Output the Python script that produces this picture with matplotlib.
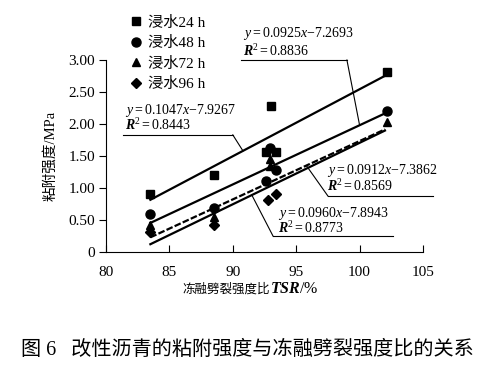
import matplotlib
matplotlib.use("Agg")
import matplotlib.pyplot as plt
import numpy as np

plt.rcParams['font.family'] = ['Liberation Serif', 'Noto Sans CJK SC']
plt.rcParams['mathtext.fontset'] = 'custom'
plt.rcParams['mathtext.rm'] = 'Liberation Serif'
plt.rcParams['mathtext.it'] = 'Liberation Serif:italic'
plt.rcParams['mathtext.bf'] = 'Liberation Serif:bold'
try:
    plt.rcParams['mathtext.bfit'] = 'Liberation Serif:italic:bold'
except KeyError:
    pass

# Data
series_names = ["浸水24 h", "浸水48 h", "浸水72 h", "浸水96 h"]
tsr_24 = [83.5, 88.5, 93.0, 92.6, 93.4, 102.2]
adh_24 = [0.91, 1.21, 2.28, 1.56, 1.57, 2.81]
tsr_48 = [83.5, 88.5, 92.65, 92.9, 93.4, 102.2]
adh_48 = [0.59, 0.68, 1.11, 1.62, 1.28, 2.21]
tsr_72 = [83.5, 88.5, 92.9, 92.9, 102.2]
adh_72 = [0.42, 0.55, 1.46, 1.35, 2.03]
tsr_96 = [83.5, 88.5, 92.8, 93.4]
adh_96 = [0.32, 0.42, 0.82, 0.91]

# Fit equations (slope, intercept, R2)
fit_24 = (0.1047, -7.9267, 0.8443)
fit_48 = (0.0925, -7.2693, 0.8836)
fit_72 = (0.0912, -7.3862, 0.8569)
fit_96 = (0.0960, -7.8943, 0.8773)
fit_range = [83.5, 102.0]

x_ticks = [80, 85, 90, 95, 100, 105]
y_ticks = [0, 0.5, 1.0, 1.5, 2.0, 2.5, 3.0]
y_ticklabels = ["0", "0.50", "1.00", "1.50", "2.00", "2.50", "3.00"]

W, H = 494, 371
fig = plt.figure(figsize=(W/100, H/100), dpi=100)
ax = fig.add_axes([106/W, 1-252/H, (423-106)/W, (252-60)/H])
ax.set_xlim(80, 105)
ax.set_ylim(0, 3.0)

ms = 6
ax.plot(tsr_24, adh_24, 's', color='black', ms=ms, ls='none', label=series_names[0], clip_on=False)
ax.plot(tsr_48, adh_48, 'o', color='black', ms=ms+0.5, ls='none', label=series_names[1], clip_on=False)
ax.plot(tsr_72, adh_72, '^', color='black', ms=ms, ls='none', label=series_names[2], clip_on=False)
ax.plot(tsr_96, adh_96, 'D', color='black', ms=ms-1, ls='none', label=series_names[3], clip_on=False)

xs = np.array(fit_range)
for (k, b, r2), ls in [(fit_24, '-'), (fit_48, '-'), (fit_72, '--'), (fit_96, '-')]:
    if ls == '--':
        ax.plot(xs, k*xs + b, color='black', lw=1.6, ls='--', dashes=(3, 1))
    else:
        ax.plot(xs, k*xs + b, color='black', lw=1.6)

def label(fit, tx, ty1, ty2, ul_x0, ul_x1, ul_y, lead_x):
    k, b, r2 = fit
    s1 = r"$\mathit{y}\mathrm{=%.4f}\mathit{x}\mathrm{-%.4f}$" % (k, -b)
    s2 = r"$\mathbfit{R}^{\mathrm{2}}\mathrm{=%.4f}$" % r2
    ax.text(tx, ty1, s1, fontsize=10, ha='left', va='baseline', clip_on=False)
    ax.text(tx, ty2, s2, fontsize=10, ha='left', va='baseline', clip_on=False)
    ax.plot([ul_x0, ul_x1], [ul_y, ul_y], color='black', lw=0.8, clip_on=False)
    lead_start = ul_x1 if lead_x > ul_x1 else ul_x0
    ax.plot([lead_start, lead_x], [ul_y, k*lead_x + b], color='black', lw=0.8, clip_on=False)

label(fit_48, 90.8, 3.36, 3.07, 90.65, 99.0, 3.0, 100.0)
label(fit_24, 81.5, 2.16, 1.90, 81.35, 90.0, 1.83, 90.8)
label(fit_72, 97.4, 1.22, 0.96, 97.5, 105.8, 0.875, 95.8)
label(fit_96, 93.6, 0.55, 0.29, 93.17, 102.6, 0.25, 91.5)

ax.spines['top'].set_visible(False)
ax.spines['right'].set_visible(False)
ax.set_xticks(x_ticks)
ax.set_yticks(y_ticks)
ax.set_yticklabels(y_ticklabels)
ax.tick_params(axis='x', direction='in', length=5, labelsize=11, pad=10)
ax.tick_params(axis='y', direction='out', length=5, labelsize=11, pad=3)
ax.set_ylabel("粘附强度/MPa", fontsize=10.5, labelpad=8)

# x label composed of Chinese part and bold-italic TSR
fig.text(270/W, 1-289/H, "冻融劈裂强度比", fontsize=9, ha='right', va='center')
fig.text(270/W, 1-289/H, r"$\mathbfit{TSR}\mathrm{/\%}$", fontsize=11.5, ha='left', va='center')

leg = ax.legend(loc='upper left', bbox_to_anchor=(0.05, 1.262), frameon=False,
                fontsize=11, handletextpad=0.3, labelspacing=0.42, borderaxespad=0,
                handlelength=1.0)

fig.text(0.5, 1-350/H, "图 6   改性沥青的粘附强度与冻融劈裂强度比的关系", fontsize=14.5,
         ha='center', va='center')

fig.savefig("out.png", dpi=100)
